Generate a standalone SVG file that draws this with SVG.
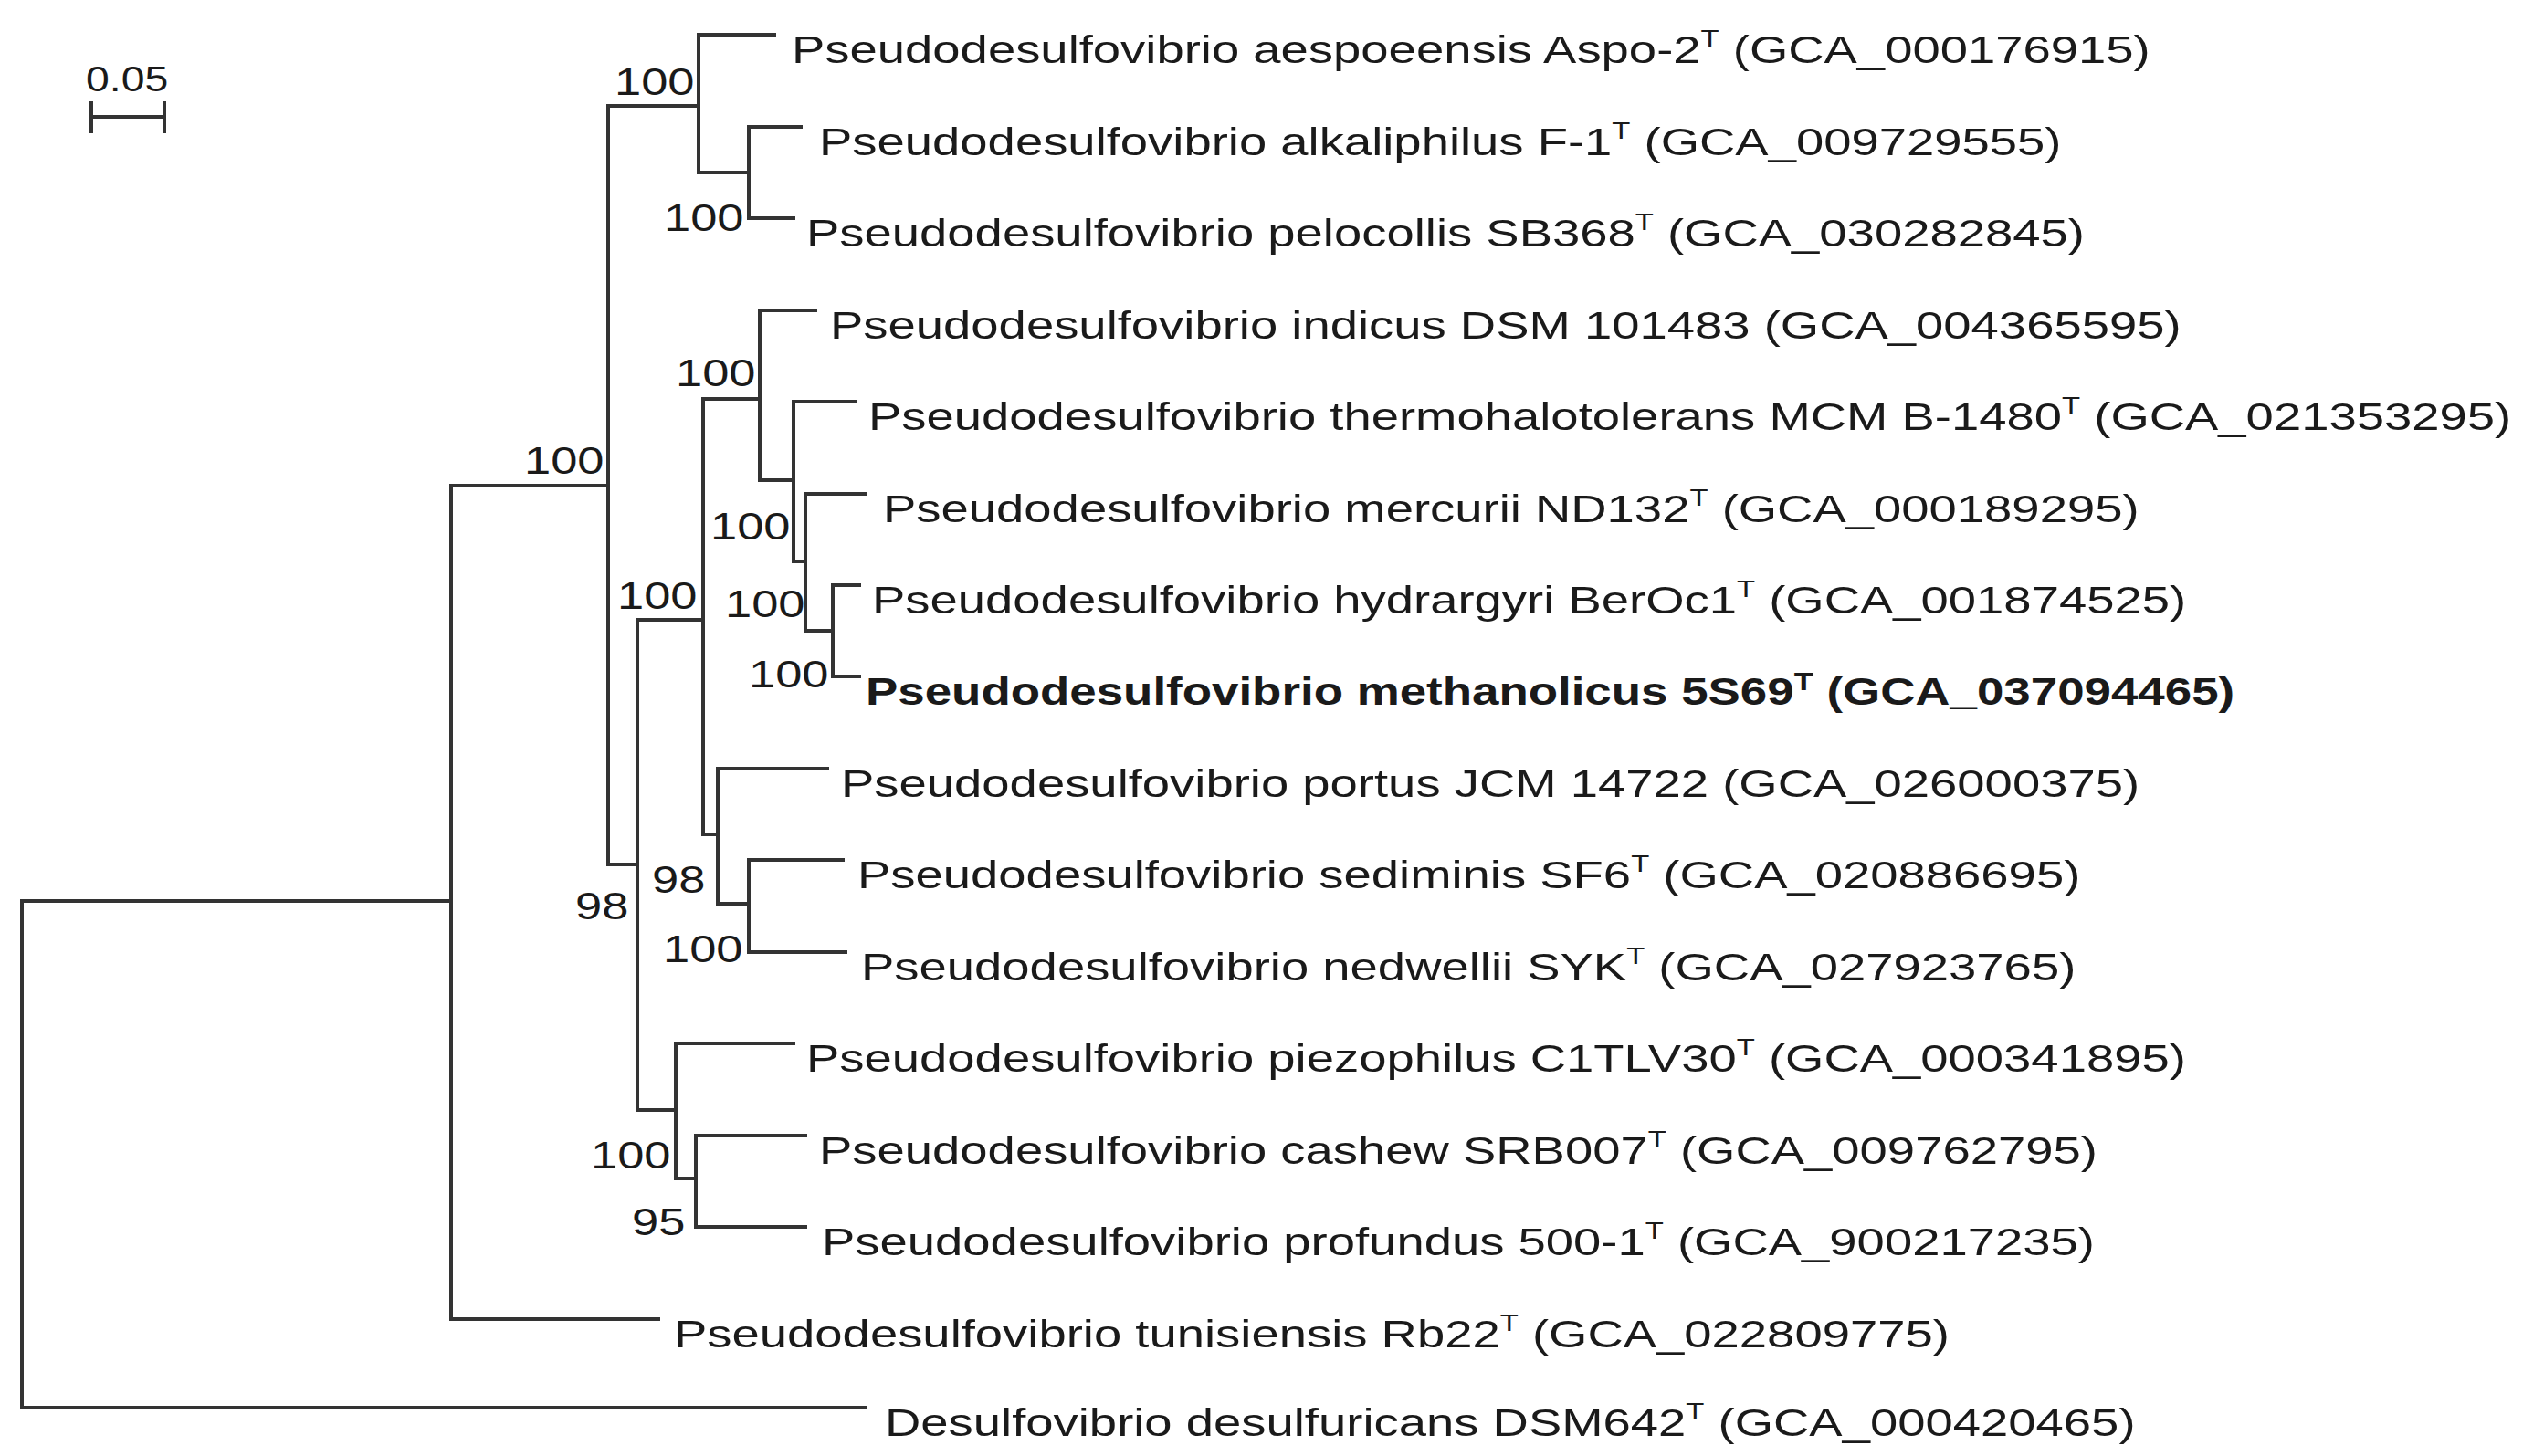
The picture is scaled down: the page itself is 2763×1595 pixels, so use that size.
<svg xmlns="http://www.w3.org/2000/svg" width="2763" height="1595" viewBox="0 0 2763 1595">
<style>
.e{stroke:#333;stroke-width:4;fill:none;stroke-linecap:square}
text{font-family:"Liberation Sans",Arial,sans-serif;font-size:43px;fill:#1a1a1a}
.b{font-size:38px}
.bold{font-weight:bold}
</style>
<rect width="2763" height="1595" fill="#fff"/>
<g id="scale">
<path class="e" d="M100 113V144M100 128H180M180 113V144"/>
<text transform="matrix(1.22 0 0 1 94 100)" class="b">0.05</text>
</g>
<g id="connectors">
<path class="e" d="M24 987V1542H948"/>
<path class="e" d="M24 987H494M494 532V1445H721"/>
<path class="e" d="M494 532H666M666 116V947H698"/>
<path class="e" d="M666 116H765M765 38V189M765 38H848M765 189H820M820 139V239M820 139H877M820 239H869"/>
<path class="e" d="M698 679V1216M698 679H770M698 1216H740"/>
<path class="e" d="M770 437V914M770 437H832M770 914H786"/>
<path class="e" d="M832 340V526M832 340H893M832 526H869"/>
<path class="e" d="M869 440V615M869 440H936M869 615H882"/>
<path class="e" d="M882 541V691M882 541H948M882 691H912"/>
<path class="e" d="M912 641V741M912 641H941M912 741H941"/>
<path class="e" d="M786 842V990M786 842H906M786 990H820"/>
<path class="e" d="M820 942V1043M820 942H923M820 1043H926"/>
<path class="e" d="M740 1143V1291M740 1143H869M740 1291H762"/>
<path class="e" d="M762 1244V1344M762 1244H882M762 1344H882"/>
</g>
<g id="support">
<text transform="matrix(1.22 0 0 1 673 104)">100</text>
<text transform="matrix(1.22 0 0 1 727 253)">100</text>
<text transform="matrix(1.22 0 0 1 574 519)">100</text>
<text transform="matrix(1.22 0 0 1 740 423)">100</text>
<text transform="matrix(1.22 0 0 1 778 591)">100</text>
<text transform="matrix(1.22 0 0 1 676 667)">100</text>
<text transform="matrix(1.22 0 0 1 794 676)">100</text>
<text transform="matrix(1.22 0 0 1 820 753)">100</text>
<text transform="matrix(1.22 0 0 1 714 978)">98</text>
<text transform="matrix(1.22 0 0 1 630 1007)">98</text>
<text transform="matrix(1.22 0 0 1 726 1054)">100</text>
<text transform="matrix(1.22 0 0 1 647 1280)">100</text>
<text transform="matrix(1.22 0 0 1 692 1353)">95</text>
</g>
<g id="leaf1"><text transform="matrix(1.266 0 0 1 867 69)">Pseudodesulfovibrio aespoeensis Aspo-2<tspan font-size="26" dy="-18">T</tspan><tspan dy="18"> (GCA_000176915)</tspan></text></g>
<g id="leaf2"><text transform="matrix(1.266 0 0 1 897 170)">Pseudodesulfovibrio alkaliphilus F-1<tspan font-size="26" dy="-18">T</tspan><tspan dy="18"> (GCA_009729555)</tspan></text></g>
<g id="leaf3"><text transform="matrix(1.266 0 0 1 883 270)">Pseudodesulfovibrio pelocollis SB368<tspan font-size="26" dy="-18">T</tspan><tspan dy="18"> (GCA_030282845)</tspan></text></g>
<g id="leaf4"><text transform="matrix(1.266 0 0 1 909 371)">Pseudodesulfovibrio indicus DSM 101483 (GCA_004365595)</text></g>
<g id="leaf5"><text transform="matrix(1.266 0 0 1 951 471)">Pseudodesulfovibrio thermohalotolerans MCM B-1480<tspan font-size="26" dy="-18">T</tspan><tspan dy="18"> (GCA_021353295)</tspan></text></g>
<g id="leaf6"><text transform="matrix(1.266 0 0 1 967 572)">Pseudodesulfovibrio mercurii ND132<tspan font-size="26" dy="-18">T</tspan><tspan dy="18"> (GCA_000189295)</tspan></text></g>
<g id="leaf7"><text transform="matrix(1.266 0 0 1 955 672)">Pseudodesulfovibrio hydrargyri BerOc1<tspan font-size="26" dy="-18">T</tspan><tspan dy="18"> (GCA_001874525)</tspan></text></g>
<g id="leaf8"><text transform="matrix(1.23 0 0 1 948 772)" class="bold">Pseudodesulfovibrio methanolicus 5S69<tspan font-size="28" dy="-16">T</tspan><tspan dy="16"> (GCA_037094465)</tspan></text></g>
<g id="leaf9"><text transform="matrix(1.266 0 0 1 921 873)">Pseudodesulfovibrio portus JCM 14722 (GCA_026000375)</text></g>
<g id="leaf10"><text transform="matrix(1.266 0 0 1 939 973)">Pseudodesulfovibrio sediminis SF6<tspan font-size="26" dy="-18">T</tspan><tspan dy="18"> (GCA_020886695)</tspan></text></g>
<g id="leaf11"><text transform="matrix(1.266 0 0 1 943 1074)">Pseudodesulfovibrio nedwellii SYK<tspan font-size="26" dy="-18">T</tspan><tspan dy="18"> (GCA_027923765)</tspan></text></g>
<g id="leaf12"><text transform="matrix(1.266 0 0 1 883 1174)">Pseudodesulfovibrio piezophilus C1TLV30<tspan font-size="26" dy="-18">T</tspan><tspan dy="18"> (GCA_000341895)</tspan></text></g>
<g id="leaf13"><text transform="matrix(1.266 0 0 1 897 1275)">Pseudodesulfovibrio cashew SRB007<tspan font-size="26" dy="-18">T</tspan><tspan dy="18"> (GCA_009762795)</tspan></text></g>
<g id="leaf14"><text transform="matrix(1.266 0 0 1 900 1375)">Pseudodesulfovibrio profundus 500-1<tspan font-size="26" dy="-18">T</tspan><tspan dy="18"> (GCA_900217235)</tspan></text></g>
<g id="leaf15"><text transform="matrix(1.266 0 0 1 738 1476)">Pseudodesulfovibrio tunisiensis Rb22<tspan font-size="26" dy="-18">T</tspan><tspan dy="18"> (GCA_022809775)</tspan></text></g>
<g id="leaf16"><text transform="matrix(1.266 0 0 1 969 1573)">Desulfovibrio desulfuricans DSM642<tspan font-size="26" dy="-18">T</tspan><tspan dy="18"> (GCA_000420465)</tspan></text></g>
</svg>
